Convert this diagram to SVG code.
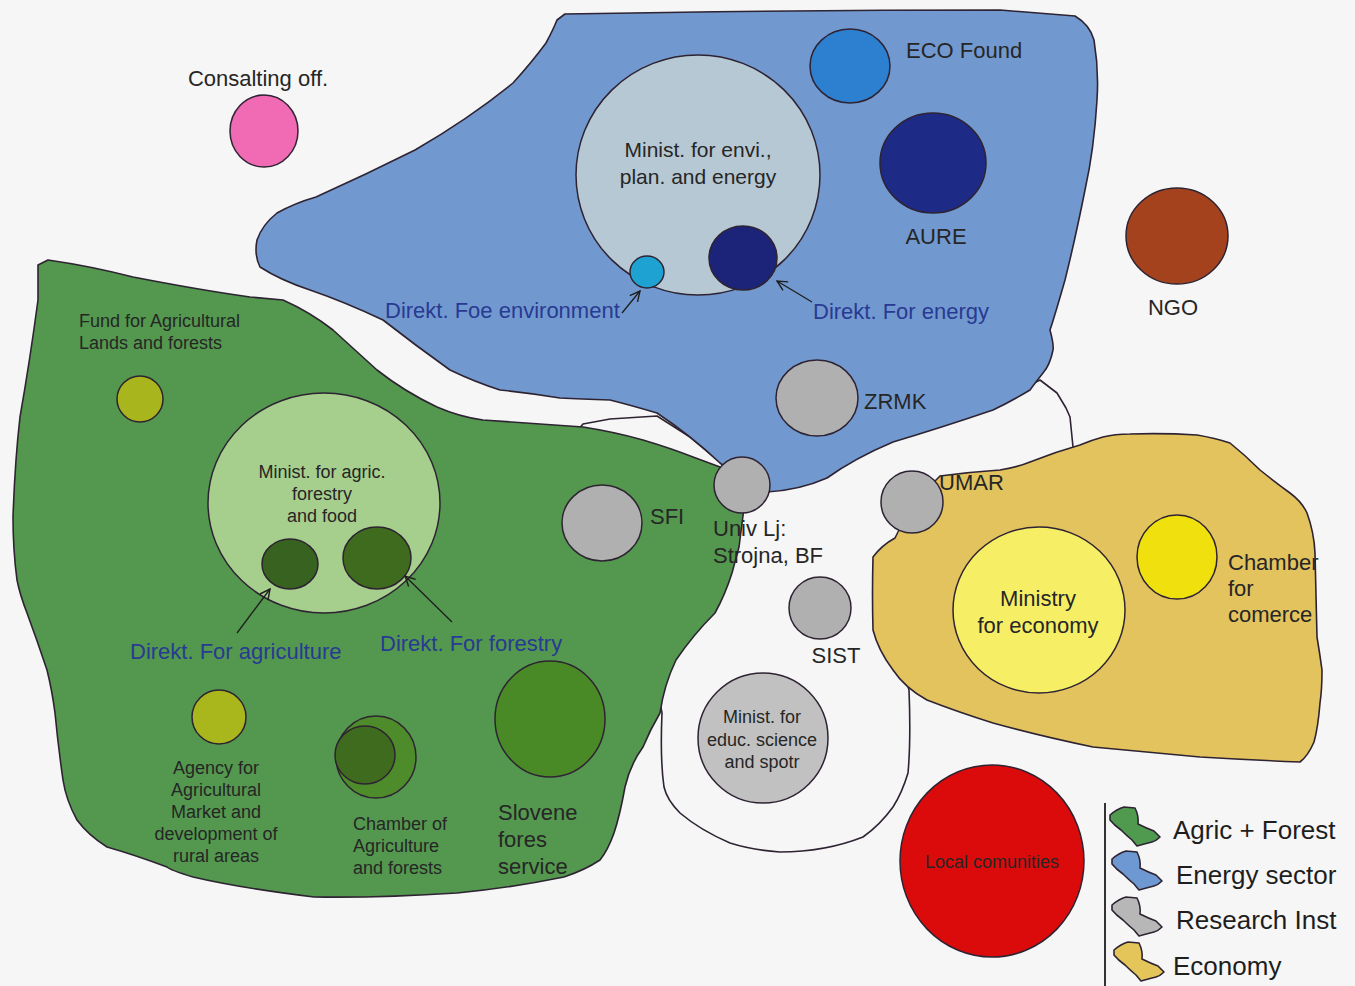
<svg xmlns="http://www.w3.org/2000/svg" width="1355" height="986" viewBox="0 0 1355 986">
<style>
text{font-family:"Liberation Sans",Arial,sans-serif;fill:#262626}
.blob{stroke:#2e2332;stroke-width:1.6;stroke-linejoin:round}
.c{stroke:#2e2332;stroke-width:1.5}
.gray{fill:#b1b0b0}
.lbl{font-size:22px}
.sm{font-size:18px}
.dir{font-size:22px;fill:#283a92}
.leg{font-size:26px;fill:#1e1e1e}
.mid{text-anchor:middle}
.arr{stroke:#1e1e1e;stroke-width:1.3;fill:none;marker-end:url(#ah)}
</style>
<defs>
<marker id="ah" viewBox="0 0 12 12" refX="11" refY="6" markerWidth="12" markerHeight="12" markerUnits="userSpaceOnUse" orient="auto">
<path d="M1,1 L11,6 L1,11" fill="none" stroke="#1e1e1e" stroke-width="1.4"/>
</marker>
<path id="legshape" d="M2,9 Q9,3 16,1 L27,2 Q31,10 30,18 Q38,22 46,25 L52,31 Q48,35 44,36 Q36,38 29,40 L24,34 Q18,29 13,24 Q6,19 2,14 Z"/>
</defs>
<rect width="1355" height="986" fill="#f6f6f6"/>

<g id="research-blob">
<path class="blob" fill="#f6f6f6" d="M576,432 L583,424 L610,419 L657,416 L690,437 L720,462 L760,480 L850,450 L950,410 L1030,385 L1040,380 L1057,393 L1066,408 L1070,417 L1073,447 L1075,470 L1000,520 L890,560 L895,640 L909,690 Q911,740 908,773 Q902,793 893,807 Q880,825 863,837 Q825,852 780,852 Q752,850 730,843 Q700,830 680,813 Q667,800 664,787 Q660,760 662,713 L640,600 L600,460 Z"/>
</g>

<g id="agric-blob">
<path class="blob" fill="#53984e" d="M38,265 L48,260 Q90,266 133,277 Q200,290 250,297 L283,300 Q310,312 333,330 Q355,350 377,370 Q405,392 437,407 Q460,417 483,420 Q540,424 583,427 Q615,432 643,440 Q670,448 693,457 L720,467 L745,500 L739,547 L732,573 Q725,595 715,613 Q693,635 676,660 Q664,685 660,713 Q650,730 643,747 Q630,765 625,787 Q620,815 614,833 Q608,850 600,860 Q585,870 564,877 Q510,888 457,893 Q380,898 314,897 Q240,888 193,877 Q170,870 167,867 Q135,855 107,847 Q88,835 77,820 Q66,800 63,780 Q58,745 55,713 Q52,690 47,670 Q37,640 27,613 Q20,595 17,580 Q13,550 13,517 Q15,460 20,417 Q30,360 38,300 Z"/>
</g>

<g id="energy-blob">
<path class="blob" fill="#7299cf" d="M565,14 Q800,10 1000,10 L1075,16 Q1090,25 1094,40 Q1099,70 1097,100 Q1094,150 1085,190 Q1075,240 1065,280 Q1055,315 1050,330 Q1054,345 1053,350 Q1050,365 1043,373 Q1035,383 1030,390 Q1010,402 993,410 Q940,428 893,442 Q855,458 827,478 Q800,490 767,492 L745,482 L720,463 Q690,435 657,413 Q630,405 610,400 Q580,399 560,398 Q530,393 500,390 Q475,382 450,370 Q415,345 383,320 Q345,302 310,290 Q280,280 260,267 Q254,255 257,240 Q262,225 277,213 Q295,203 316,197 Q365,175 415,150 Q470,118 513,83 Q532,62 546,43 Q553,30 557,20 Z"/>
</g>

<g id="economy-blob">
<path class="blob" fill="#e3c35e" d="M895,538 Q910,505 940,476 Q970,472 1000,470 Q1018,467 1030,462 Q1055,452 1080,445 Q1092,440 1103,437 Q1115,434 1130,434 Q1165,433 1197,435 Q1215,438 1230,443 Q1245,455 1260,470 Q1275,482 1290,493 Q1302,502 1307,513 Q1314,532 1315,553 Q1316,595 1317,637 Q1320,655 1322,670 Q1322,690 1320,703 Q1318,728 1314,742 Q1308,756 1300,762 Q1250,760 1200,757 Q1145,752 1093,747 Q1040,736 993,723 Q958,712 927,700 Q905,688 893,670 Q878,650 873,630 Q872,595 873,557 Q882,545 895,538 Z"/>
</g>

<g id="consalting">
<ellipse class="c" cx="264" cy="131" rx="34" ry="36" fill="#f06bb3"/>
<text class="lbl mid" x="258" y="86">Consalting off.</text>
</g>

<g id="eco-found">
<ellipse class="c" cx="850" cy="66" rx="40" ry="37" fill="#2d7fd0"/>
<text class="lbl" x="906" y="58">ECO Found</text>
</g>

<g id="aure">
<ellipse class="c" cx="933" cy="163" rx="53" ry="50" fill="#1d2a86"/>
<text class="lbl mid" x="936" y="244">AURE</text>
</g>

<g id="minist-envi">
<ellipse class="c" cx="698" cy="175" rx="122" ry="120" fill="#b6c8d3"/>
<text class="mid" style="font-size:21px" x="698" y="157">Minist. for envi.,</text>
<text class="mid" style="font-size:21px" x="698" y="184">plan. and energy</text>
</g>

<g id="direkt-energy">
<ellipse class="c" cx="743" cy="258" rx="34" ry="32" fill="#1c2479"/>
<text class="dir" x="813" y="319">Direkt. For energy</text>
</g>

<g id="direkt-env">
<ellipse class="c" cx="647" cy="272" rx="17" ry="16" fill="#1ea2d2"/>
<text class="dir" x="385" y="318">Direkt. Foe environment</text>
</g>

<g id="zrmk">
<ellipse class="c gray" cx="817" cy="398" rx="41" ry="38"/>
<text class="lbl" x="864" y="409">ZRMK</text>
</g>

<g id="ngo">
<ellipse class="c" cx="1177" cy="236" rx="51" ry="48" fill="#a3421d"/>
<text class="lbl mid" x="1173" y="315">NGO</text>
</g>

<g id="fund">
<circle class="c" cx="140" cy="399" r="23" fill="#a9b51c"/>
<text class="sm" x="79" y="327">Fund for Agricultural</text>
<text class="sm" x="79" y="349">Lands and forests</text>
</g>

<g id="minist-agric">
<ellipse class="c" cx="324" cy="503" rx="116" ry="110" fill="#a6cf8e"/>
<text class="sm mid" x="322" y="478">Minist. for agric.</text>
<text class="sm mid" x="322" y="500">forestry</text>
<text class="sm mid" x="322" y="522">and food</text>
</g>

<g id="direkt-agric">
<ellipse class="c" cx="290" cy="564" rx="28" ry="25" fill="#37621f"/>
<text class="dir" x="130" y="659">Direkt. For agriculture</text>
</g>

<g id="direkt-forestry">
<ellipse class="c" cx="377" cy="558" rx="34" ry="31" fill="#3e6b1d"/>
<text class="dir" x="380" y="651">Direkt. For forestry</text>
</g>

<g id="sfi">
<ellipse class="c gray" cx="602" cy="523" rx="40" ry="38"/>
<text class="lbl" x="650" y="524">SFI</text>
</g>

<g id="univ">
<circle class="c gray" cx="742" cy="485" r="28"/>
<text class="lbl" x="713" y="536">Univ Lj:</text>
<text class="lbl" x="713" y="563">Strojna, BF</text>
</g>

<g id="umar">
<circle class="c gray" cx="912" cy="502" r="31"/>
<text class="lbl" x="939" y="490">UMAR</text>
</g>

<g id="sist">
<circle class="c gray" cx="820" cy="608" r="31"/>
<text class="lbl mid" x="836" y="663">SIST</text>
</g>

<g id="minist-educ">
<circle class="c" cx="763" cy="738" r="65" fill="#c2c1c1"/>
<text class="sm mid" x="762" y="723">Minist. for</text>
<text class="sm mid" x="762" y="746">educ. science</text>
<text class="sm mid" x="762" y="768">and spotr</text>
</g>

<g id="ministry-economy">
<ellipse class="c" cx="1039" cy="610" rx="86" ry="83" fill="#f6ef66"/>
<text class="lbl mid" x="1038" y="606">Ministry</text>
<text class="lbl mid" x="1038" y="633">for economy</text>
</g>

<g id="chamber-comerce">
<ellipse class="c" cx="1177" cy="557" rx="40" ry="42" fill="#efe00e"/>
<text class="lbl" x="1228" y="570">Chamber</text>
<text class="lbl" x="1228" y="596">for</text>
<text class="lbl" x="1228" y="622">comerce</text>
</g>

<g id="agency">
<circle class="c" cx="219" cy="717" r="27" fill="#a9b71d"/>
<text class="sm mid" x="216" y="774">Agency for</text>
<text class="sm mid" x="216" y="796">Agricultural</text>
<text class="sm mid" x="216" y="818">Market and</text>
<text class="sm mid" x="216" y="840">development of</text>
<text class="sm mid" x="216" y="862">rural areas</text>
</g>

<g id="chamber-agric">
<ellipse class="c" cx="376" cy="757" rx="40" ry="41" fill="#4d8b2b"/>
<ellipse class="c" cx="365" cy="755" rx="30" ry="29" fill="#3f6b1f"/>
<text class="sm" x="353" y="830">Chamber of</text>
<text class="sm" x="353" y="852">Agriculture</text>
<text class="sm" x="353" y="874">and forests</text>
</g>

<g id="slovene">
<ellipse class="c" cx="550" cy="719" rx="55" ry="58" fill="#4a8a26"/>
<text class="lbl" x="498" y="820">Slovene</text>
<text class="lbl" x="498" y="847">fores</text>
<text class="lbl" x="498" y="874">service</text>
</g>

<g id="local">
<ellipse class="c" cx="992" cy="861" rx="92" ry="96" fill="#dc0b0b"/>
<text class="sm mid" x="992" y="868">Local comunities</text>
</g>

<g id="connectors">
<path class="arr" d="M622,313 L640,291"/>
<path class="arr" d="M812,302 L777,281"/>
<path class="arr" d="M237,633 L270,589"/>
<path class="arr" d="M452,622 L405,576"/>
</g>

<g id="legend">
<line x1="1105" y1="803" x2="1105" y2="986" stroke="#333" stroke-width="2"/>
<use href="#legshape" x="1108" y="806" fill="#4f9a4f" class="blob"/>
<use href="#legshape" x="1110" y="850" fill="#6e98d2" class="blob"/>
<use href="#legshape" x="1110" y="896" fill="#b8b7b7" class="blob"/>
<use href="#legshape" x="1112" y="941" fill="#e3c55a" class="blob"/>
<text class="leg" x="1173" y="839">Agric + Forest</text>
<text class="leg" x="1176" y="884">Energy sector</text>
<text class="leg" x="1176" y="929">Research Inst</text>
<text class="leg" x="1173" y="975">Economy</text>
</g>
</svg>
